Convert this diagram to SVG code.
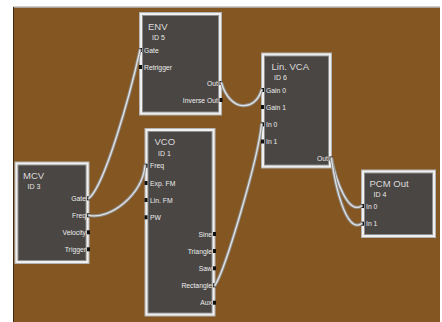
<svg xmlns="http://www.w3.org/2000/svg" width="442" height="322" viewBox="0 0 442 322">
<style>
.frame{fill:#f0f0f0;stroke:#b4b4b4;stroke-width:1}
.body{fill:#4a4644;stroke:#8e8e8e;stroke-width:1}
.port{fill:#111111}
.title{font-family:"Liberation Sans",Arial,sans-serif;font-size:9.5px;fill:#dcdcdc}
.id{font-family:"Liberation Sans",Arial,sans-serif;font-size:7px;fill:#e6e6e6}
.lbl{font-family:"Liberation Sans",Arial,sans-serif;font-size:6.8px;fill:#ececec}
.r{text-anchor:end}
.wo{fill:none;stroke:#8f8f8f;stroke-width:3.2;stroke-linecap:round}
.wi{fill:none;stroke:#e2e2e2;stroke-width:1.3;stroke-linecap:round}
</style>
<rect x="0" y="0" width="442" height="322" fill="#ffffff"/>
<rect x="13" y="7.5" width="427" height="315" fill="#845722"/>
<line x1="13" y1="7" x2="440" y2="7" stroke="#9a9a9a" stroke-width="1"/>
<line x1="13.5" y1="7" x2="13.5" y2="322" stroke="#3c2a12" stroke-width="1"/>

<g id="node-env">
<rect class="frame" x="139.5" y="12.5" width="82" height="102.5"/>
<rect class="body" x="142.5" y="15.5" width="76" height="96.5"/>
<text class="title" x="148" y="29.5">ENV</text>
<text class="id" x="152" y="40">ID 5</text>
<rect class="port" x="139" y="48" width="3" height="4"/><text class="lbl" x="144" y="52.5">Gate</text>
<rect class="port" x="139" y="65" width="3" height="4"/><text class="lbl" x="144" y="69.5">Retrigger</text>
<rect class="port" x="219.5" y="81" width="3" height="4"/><text class="lbl r" x="218" y="85.5">Out</text>
<rect class="port" x="219.5" y="98" width="3" height="4"/><text class="lbl r" x="218" y="102.5">Inverse Out</text>
</g>

<g id="node-linvca">
<rect class="frame" x="261.5" y="53" width="70" height="115"/>
<rect class="body" x="264.5" y="56" width="64" height="109"/>
<text class="title" x="271.5" y="69.5">Lin. VCA</text>
<text class="id" x="274" y="80">ID 6</text>
<rect class="port" x="261" y="88" width="3" height="4"/><text class="lbl" x="266" y="92.5">Gain 0</text>
<rect class="port" x="261" y="105" width="3" height="4"/><text class="lbl" x="266" y="109.5">Gain 1</text>
<rect class="port" x="261" y="122.3" width="3" height="4"/><text class="lbl" x="266" y="126.8">In 0</text>
<rect class="port" x="261" y="139.5" width="3" height="4"/><text class="lbl" x="266" y="144">In 1</text>
<rect class="port" x="329.5" y="156.5" width="3" height="4"/><text class="lbl r" x="328" y="161">Out</text>
</g>

<g id="node-vco">
<rect class="frame" x="145" y="128.5" width="70" height="187.5"/>
<rect class="body" x="148" y="131.5" width="64" height="181.5"/>
<text class="title" x="154.5" y="145">VCO</text>
<text class="id" x="158" y="155.5">ID 1</text>
<rect class="port" x="144.5" y="163.7" width="3" height="4"/><text class="lbl" x="150" y="168.2">Freq</text>
<rect class="port" x="144.5" y="181" width="3" height="4"/><text class="lbl" x="150" y="185.5">Exp. FM</text>
<rect class="port" x="144.5" y="198" width="3" height="4"/><text class="lbl" x="150" y="202.5">Lin. FM</text>
<rect class="port" x="144.5" y="215.3" width="3" height="4"/><text class="lbl" x="150" y="219.8">PW</text>
<rect class="port" x="213" y="232" width="3" height="4"/><text class="lbl r" x="212" y="236.5">Sine</text>
<rect class="port" x="213" y="249" width="3" height="4"/><text class="lbl r" x="212" y="253.5">Triangle</text>
<rect class="port" x="213" y="266.3" width="3" height="4"/><text class="lbl r" x="212" y="270.8">Saw</text>
<rect class="port" x="213" y="283.3" width="3" height="4"/><text class="lbl r" x="212" y="287.8">Rectangle</text>
<rect class="port" x="213" y="300.7" width="3" height="4"/><text class="lbl r" x="212" y="305.2">Aux</text>
</g>

<g id="node-mcv">
<rect class="frame" x="15" y="162" width="74" height="101.5"/>
<rect class="body" x="18" y="165" width="68" height="95.5"/>
<text class="title" x="23" y="178.5">MCV</text>
<text class="id" x="27.5" y="189">ID 3</text>
<rect class="port" x="87" y="196.3" width="3" height="4"/><text class="lbl r" x="86" y="200.8">Gate</text>
<rect class="port" x="87" y="213.3" width="3" height="4"/><text class="lbl r" x="86" y="217.8">Freq</text>
<rect class="port" x="87" y="230.3" width="3" height="4"/><text class="lbl r" x="86" y="234.8">Velocity</text>
<rect class="port" x="87" y="247.3" width="3" height="4"/><text class="lbl r" x="86" y="251.8">Trigger</text>
</g>

<g id="node-pcmout">
<rect class="frame" x="361.5" y="170" width="74" height="67.5"/>
<rect class="body" x="364.5" y="173" width="68" height="61.5"/>
<text class="title" x="369.5" y="186.5">PCM Out</text>
<text class="id" x="373.5" y="197">ID 4</text>
<rect class="port" x="361" y="204" width="3" height="4"/><text class="lbl" x="366" y="208.5">In 0</text>
<rect class="port" x="361" y="221.7" width="3" height="4"/><text class="lbl" x="366" y="226.2">In 1</text>
</g>

<g id="connectors">
<g><path class="wo" d="M89 198.3C105 185 130 95 140 50"/><path class="wi" d="M89 198.3C105 185 130 95 140 50"/></g>
<g><path class="wo" d="M89 215.3C110 220 142 195 145 165.7"/><path class="wi" d="M89 215.3C110 220 142 195 145 165.7"/></g>
<g><path class="wo" d="M221.5 83C230 112 255 112 261.5 90"/><path class="wi" d="M221.5 83C230 112 255 112 261.5 90"/></g>
<g><path class="wo" d="M215 285.3C225 270 258 160 261.5 124.3"/><path class="wi" d="M215 285.3C225 270 258 160 261.5 124.3"/></g>
<g><path class="wo" d="M331.5 158.5C336 180 348 215 361.5 206"/><path class="wi" d="M331.5 158.5C336 180 348 215 361.5 206"/></g>
<g><path class="wo" d="M331.5 158.5C335 185 346 234 361.5 223.7"/><path class="wi" d="M331.5 158.5C335 185 346 234 361.5 223.7"/></g>
</g>
</svg>
